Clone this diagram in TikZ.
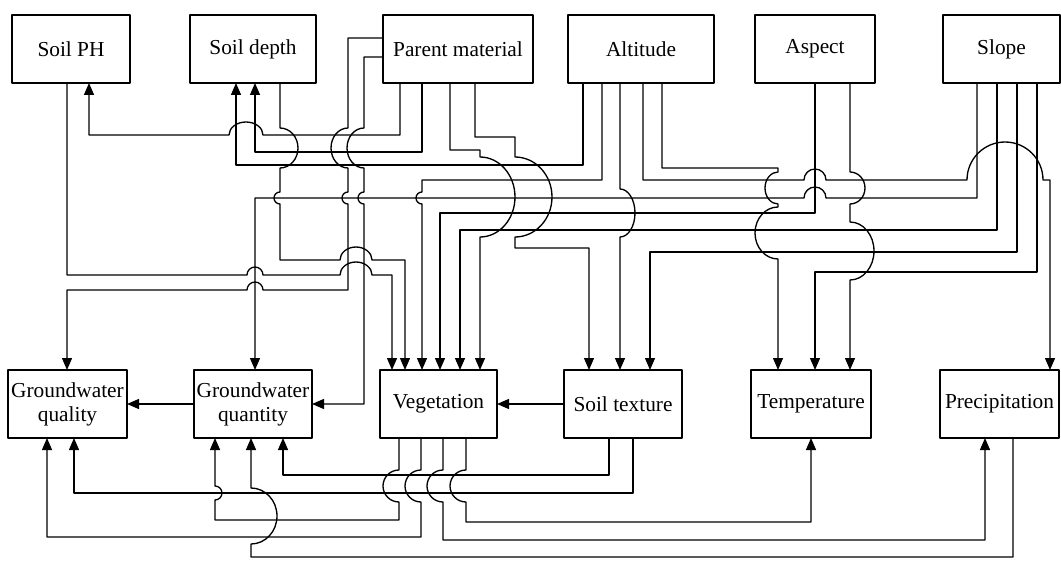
\documentclass[tikz,border=0pt]{standalone}
\usepackage{fontspec}
\setmainfont{Liberation Serif}
\usepackage{tikz}
\usetikzlibrary{arrows.meta,positioning}
\tikzset{
    every picture/.style={line cap=round,line join=round},
    factor/.style={draw=black,line width=1.1pt,minimum height=51pt,
      inner sep=1pt,outer sep=0pt,align=center},
    link/.style={draw=black,line width=1pt},
    flow/.style={link,-{Triangle[length=9pt,width=7.5pt]}}
}
\begin{document}
\begin{tikzpicture}[x=0.75pt,y=-0.75pt,font=\fontsize{16}{18}\selectfont]
  \useasboundingbox (0,0) rectangle (1061,563);
  % top row
  \node[factor,minimum width=88.5pt] (sph) at (71,49) {Soil PH};
  \node[factor,minimum width=94.5pt,right=45pt of sph] (sdep) {Soil depth};
  \node[factor,minimum width=112.5pt,right=50.25pt of sdep] (pm) {Parent material};
  \node[factor,minimum width=109.5pt,right=26.25pt of pm] (alt) {Altitude};
  \node[factor,minimum width=90pt,right=30.75pt of alt] (asp) {Aspect};
  \node[factor,minimum width=87.75pt,right=51pt of asp] (slp) {Slope};
  % bottom row
  \node[factor,minimum width=89.25pt] (gwql) at (67.5,404) {Groundwater\\quality};
  \node[factor,minimum width=88.5pt,right=50.25pt of gwql] (gwqn) {Groundwater\\quantity};
  \node[factor,minimum width=87.75pt,right=51pt of gwqn] (veg) {Vegetation};
  \node[factor,minimum width=88.5pt,right=50.25pt of veg] (stx) {Soil texture};
  \node[factor,minimum width=90pt,right=51.75pt of stx] (tmp) {Temperature};
  \node[factor,minimum width=89.25pt,right=51.75pt of tmp] (prc) {Precipitation};

  % upper links
  \draw[flow] (pm.south -| 400,0) -- (400,135) -- (263,135)
    arc[start angle=0,end angle=-180,x radius=17,y radius=13] -- (89,135) -- (sph.south -| 89,0);
  \draw[flow] (pm.south -| 422,0) -- (422,152) -- (255,152) -- (sdep.south -| 255,0);
  \draw[flow] (alt.south -| 583,0) -- (583,165) -- (236,165) -- (sdep.south -| 236,0);
  \draw[flow] (pm.south -| 450,0) -- (450,150) -- (480,150) -- (480,157)
    arc[start angle=-90,end angle=90,x radius=35,y radius=40] -- (veg.north -| 480,0);
  \draw[flow] (pm.south -| 475,0) -- (475,137) -- (515,137) -- (515,157)
    arc[start angle=-90,end angle=90,x radius=37,y radius=40] -- (515,248) -- (589,248) -- (stx.north -| 589,0);
  \draw[flow] (pm.west |- 0,38) -- (348,38) -- (348,128)
    arc[start angle=-90,end angle=-270,x radius=17,y radius=20] -- (348,192)
    arc[start angle=-90,end angle=-270,radius=6] -- (348,290) -- (263,290)
    arc[start angle=0,end angle=-180,radius=8] -- (67,290) -- (gwql.north -| 67,0);
  \draw[flow] (pm.west |- 0,57) -- (364,57) -- (364,128)
    arc[start angle=-90,end angle=-270,x radius=17,y radius=20] -- (364,192)
    arc[start angle=-90,end angle=-270,radius=6] -- (364,404) -- (gwqn.east);
  \draw[flow] (sdep.south -| 280,0) -- (280,128)
    arc[start angle=-90,end angle=90,x radius=18,y radius=20] -- (280,192)
    arc[start angle=-90,end angle=-270,radius=6] -- (280,260) -- (340,260)
    arc[start angle=180,end angle=360,x radius=16,y radius=13] -- (405,260) -- (veg.north -| 405,0);
  \draw[flow] (sph.south -| 67,0) -- (67,275) -- (247,275)
    arc[start angle=180,end angle=360,radius=8] -- (340,275)
    arc[start angle=180,end angle=360,x radius=16,y radius=13] -- (392,275) -- (veg.north -| 392,0);
  \draw[flow] (slp.south -| 977,0) -- (977,198) -- (826,198)
    arc[start angle=0,end angle=-180,radius=11] -- (255,198) -- (gwqn.north -| 255,0);
  \draw[flow] (alt.south -| 602,0) -- (602,180) -- (422,180) -- (422,192)
    arc[start angle=-90,end angle=-270,radius=6] -- (veg.north -| 422,0);
  \draw[flow] (alt.south -| 620,0) -- (620,189)
    arc[start angle=-90,end angle=90,x radius=15,y radius=24] -- (stx.north -| 620,0);
  \draw[flow] (alt.south -| 643,0) -- (643,180) -- (804,180)
    arc[start angle=180,end angle=360,radius=11] -- (967,180)
    arc[start angle=180,end angle=360,radius=38] -- (1050,180) -- (prc.north -| 1050,0);
  \draw[flow] (alt.south -| 662,0) -- (662,168) -- (778,168) -- (778,172)
    arc[start angle=-90,end angle=-270,x radius=13,y radius=16] -- (778,207)
    arc[start angle=-90,end angle=-270,x radius=23,y radius=26] -- (tmp.north -| 778,0);
  \draw[flow] (asp.south -| 815,0) -- (815,213) -- (440,213) -- (veg.north -| 440,0);
  \draw[flow] (asp.south -| 850,0) -- (850,172)
    arc[start angle=-90,end angle=90,x radius=15,y radius=16] -- (850,222)
    arc[start angle=-90,end angle=90,x radius=24,y radius=29] -- (tmp.north -| 850,0);
  \draw[flow] (slp.south -| 997,0) -- (997,230) -- (460,230) -- (veg.north -| 460,0);
  \draw[flow] (slp.south -| 1017,0) -- (1017,252) -- (650,252) -- (stx.north -| 650,0);
  \draw[flow] (slp.south -| 1037,0) -- (1037,272) -- (815,272) -- (tmp.north -| 815,0);

  % side links
  \draw[flow] (gwqn.west) -- (gwql.east);
  \draw[flow] (stx.west) -- (veg.east);

  % lower links
  \draw[flow] (veg.south -| 399,0) -- (399,470)
    arc[start angle=-90,end angle=-270,radius=16] -- (399,520) -- (215,520) -- (215,500)
    arc[start angle=90,end angle=-90,radius=7] -- (gwqn.south -| 215,0);
  \draw[flow] (veg.south -| 421,0) -- (421,470)
    arc[start angle=-90,end angle=-270,radius=16] -- (421,537) -- (47,537) -- (gwql.south -| 47,0);
  \draw[flow] (veg.south -| 443,0) -- (443,470)
    arc[start angle=-90,end angle=-270,radius=16] -- (443,540) -- (985,540) -- (prc.south -| 985,0);
  \draw[flow] (veg.south -| 466,0) -- (466,470)
    arc[start angle=-90,end angle=-270,radius=16] -- (466,522) -- (811,522) -- (tmp.south -| 811,0);
  \draw[flow] (stx.south -| 609,0) -- (609,475) -- (283,475) -- (gwqn.south -| 283,0);
  \draw[flow] (stx.south -| 633,0) -- (633,493) -- (74,493) -- (gwql.south -| 74,0);
  \draw[flow] (prc.south -| 1013,0) -- (1013,557) -- (251,557) -- (251,544)
    arc[start angle=90,end angle=-90,x radius=26,y radius=28] -- (gwqn.south -| 251,0);
\end{tikzpicture}
\end{document}
